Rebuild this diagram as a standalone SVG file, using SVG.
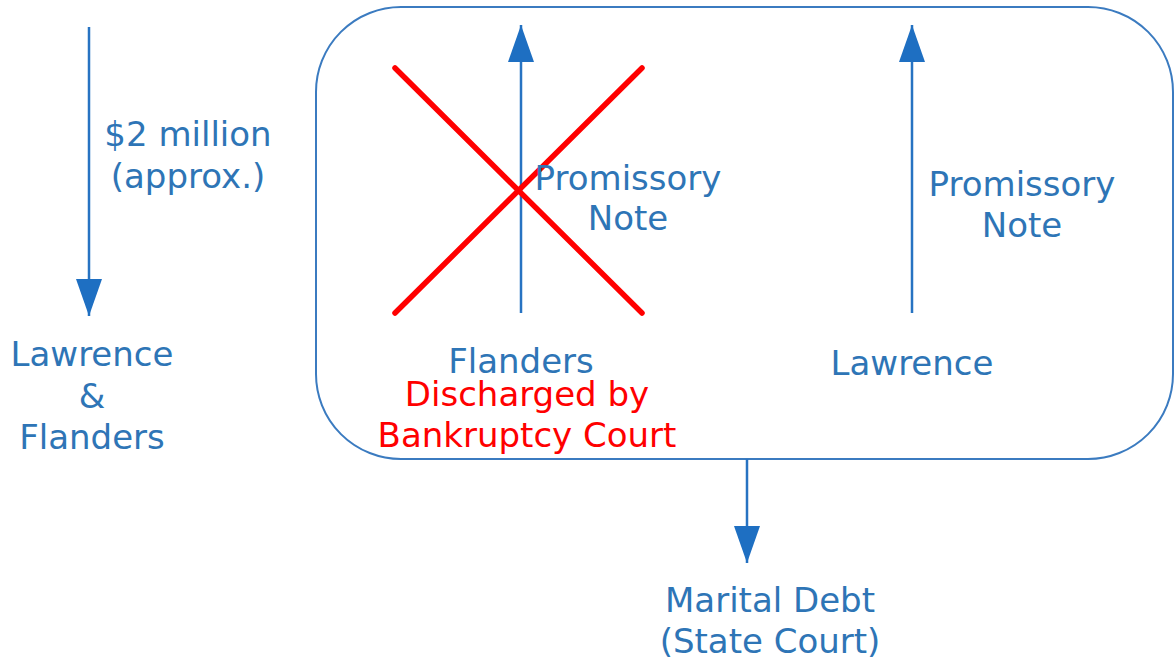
<svg xmlns="http://www.w3.org/2000/svg" width="1175" height="661" viewBox="0 0 1175 661">
<defs>
<style>
.t{font-family:"DejaVu Sans","Verdana",sans-serif;font-size:34px;fill:#2E75B6;text-anchor:middle}
.r{fill:#FF0000}
.ar{stroke:#2773C2;stroke-width:2.5;fill:none}
.x{stroke:#FF0000;stroke-width:5.5;stroke-linecap:round}
</style>
<marker id="ah" viewBox="0 0 37 26" refX="37" refY="13" markerWidth="37" markerHeight="26" markerUnits="userSpaceOnUse" orient="auto">
<path d="M0,0 L37,13 L0,26 Z" fill="#1E6FC2"/>
</marker>
</defs>
<rect width="1175" height="661" fill="#FFFFFF"/>
<g id="box">
<rect x="316" y="7" width="857" height="452" rx="85" ry="85" fill="none" stroke="#3B7BC0" stroke-width="2"/>
</g>
<g id="connectors">
<line class="ar" x1="89" y1="27" x2="89" y2="316" marker-end="url(#ah)"/>
<line class="ar" x1="521" y1="313" x2="521" y2="25" marker-end="url(#ah)"/>
<line class="ar" x1="912" y1="313" x2="912" y2="25" marker-end="url(#ah)"/>
<line class="ar" x1="747" y1="459" x2="747" y2="563" marker-end="url(#ah)"/>
</g>
<g id="cross">
<line class="x" x1="395" y1="68" x2="642" y2="313"/>
<line class="x" x1="642" y1="68" x2="395" y2="313"/>
</g>
<g id="label-amount">
<text class="t" x="188" y="146">$2 million</text>
<text class="t" x="188" y="188">(approx.)</text>
</g>
<g id="node-lawrence-flanders">
<text class="t" x="92" y="366">Lawrence</text>
<text class="t" x="92" y="408">&amp;</text>
<text class="t" x="92" y="449">Flanders</text>
</g>
<g id="label-note1">
<text class="t" x="628" y="190">Promissory</text>
<text class="t" x="628" y="230">Note</text>
</g>
<g id="node-flanders">
<text class="t" x="521" y="373">Flanders</text>
<text class="t r" x="527" y="406">Discharged by</text>
<text class="t r" x="527" y="447">Bankruptcy Court</text>
</g>
<g id="label-note2">
<text class="t" x="1022" y="196">Promissory</text>
<text class="t" x="1022" y="237">Note</text>
</g>
<g id="node-lawrence">
<text class="t" x="912" y="375">Lawrence</text>
</g>
<g id="node-marital">
<text class="t" x="770" y="612">Marital Debt</text>
<text class="t" x="770" y="653">(State Court)</text>
</g>
</svg>
